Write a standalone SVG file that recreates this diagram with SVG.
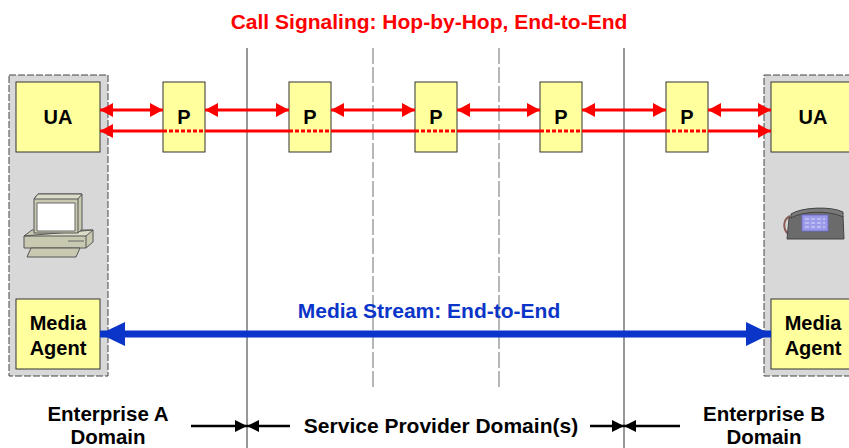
<svg xmlns="http://www.w3.org/2000/svg" width="849" height="448" viewBox="0 0 849 448">
  <style>
    .lbl { font-family: "Liberation Sans", Arial, sans-serif; font-weight: bold; }
    .box { fill: #ffff9e; stroke: #333; stroke-width: 1; }
    .panel { fill: #d8d8d8; stroke: #444; stroke-width: 1; stroke-dasharray: 7 2; }
    .sig { stroke: #ff0000; stroke-width: 3; fill: none; }
    .sigdot { stroke: #ff0000; stroke-width: 3; fill: none; stroke-dasharray: 4 2; }
    .media { stroke: #0a35c8; stroke-width: 7; fill: none; }
    .dom { stroke: #000; stroke-width: 2.5; fill: none; }
    .solid { stroke: #333; stroke-width: 1; }
    .dash { stroke: #888; stroke-width: 1.2; stroke-dasharray: 16 3; }
  </style>
  <defs>
    <marker id="redHead" markerUnits="userSpaceOnUse" markerWidth="16" markerHeight="16" refX="13" refY="7" orient="auto-start-reverse">
      <path d="M0,0 L13,7 L0,14 Z" fill="#ff0000"/>
    </marker>
    <marker id="blueHead" markerUnits="userSpaceOnUse" markerWidth="28" markerHeight="28" refX="25" refY="12" orient="auto-start-reverse">
      <path d="M0,0 L25,12 L0,24 Z" fill="#0a35c8"/>
    </marker>
    <marker id="blackHead" markerUnits="userSpaceOnUse" markerWidth="14" markerHeight="14" refX="12" refY="6" orient="auto-start-reverse">
      <path d="M0,0 L12,6 L0,12 Z" fill="#000"/>
    </marker>
  </defs>

  <rect width="849" height="448" fill="#fff"/>

  <!-- domain boundaries -->
  <g id="boundaries">
    <line class="solid" x1="247" y1="48" x2="247" y2="448"/>
    <line class="solid" x1="624" y1="48" x2="624" y2="448"/>
    <line class="dash" x1="373" y1="48" x2="373" y2="390"/>
    <line class="dash" x1="499" y1="48" x2="499" y2="390"/>
  </g>

  <!-- endpoint panels -->
  <g id="endpointA">
    <rect class="panel" x="9" y="75" width="99" height="301"/>
    <!-- desktop computer -->
    <g id="computer" stroke="#555" stroke-width="1" stroke-linejoin="round">
      <polygon points="24,236 32,230 93,230 93,242 86,248 24,248" fill="#c9c9b2"/>
      <polygon points="24,236 86,236 93,230" fill="#dcdcc8"/>
      <line x1="86" y1="236" x2="86" y2="248"/>
      <line x1="68" y1="241" x2="84" y2="241" stroke="#666"/>
      <polygon points="31,248 80,248 76,257 27,257" fill="#c9c9b2"/>
      <polygon points="34,199 38,194 82,194 82,229 78,233 34,233" fill="#c9c9b2"/>
      <polygon points="34,199 78,199 82,194 38,194" fill="#dcdcc8"/>
      <line x1="78" y1="199" x2="78" y2="233"/>
      <rect x="37" y="203" width="38" height="28" fill="#ffffff" stroke="#666"/>
    </g>
  </g>
  <g id="endpointB">
    <rect class="panel" x="764" y="75" width="100" height="301"/>
    <!-- desk telephone -->
    <g id="phone">
      <path d="M790,216 C782,220 782,232 792,236" stroke="#8a5a55" stroke-width="2" fill="none"/>
      <path d="M787,239 L789,218 C802,210 830,208 843,216 L844,239 Z" fill="#6b6b6b" stroke="#444"/>
      <path d="M791,214 C802,207 831,206 843,212 L843,217 C830,210 802,211 791,218 Z" fill="#7a7a7a" stroke="#444"/>
      <rect x="802" y="215" width="26" height="16" fill="#9a9ae8" stroke="#6a6acf" stroke-width="0.8"/>
      <g stroke="#dcdcff" stroke-width="1.2">
        <line x1="805" y1="219" x2="825" y2="219" stroke-dasharray="4 2"/>
        <line x1="805" y1="223" x2="825" y2="223" stroke-dasharray="4 2"/>
        <line x1="805" y1="227" x2="825" y2="227" stroke-dasharray="4 2"/>
      </g>
    </g>
  </g>

  <!-- nodes -->
  <g id="uaA">
    <rect class="box" x="16" y="82" width="84" height="70"/>
    <text class="lbl" x="58" y="124" font-size="20" text-anchor="middle">UA</text>
  </g>
  <g id="uaB">
    <rect class="box" x="771" y="82" width="84" height="70"/>
    <text class="lbl" x="813" y="124" font-size="20" text-anchor="middle">UA</text>
  </g>
  <g id="mediaA">
    <rect class="box" x="16" y="299" width="84" height="70"/>
    <text class="lbl" x="58" y="330" font-size="20" text-anchor="middle">Media</text>
    <text class="lbl" x="58" y="355" font-size="20" text-anchor="middle">Agent</text>
  </g>
  <g id="mediaB">
    <rect class="box" x="771" y="299" width="84" height="70"/>
    <text class="lbl" x="813" y="330" font-size="20" text-anchor="middle">Media</text>
    <text class="lbl" x="813" y="355" font-size="20" text-anchor="middle">Agent</text>
  </g>
  <g id="proxy1">
    <rect class="box" x="163" y="82" width="42" height="70"/>
    <text class="lbl" x="184" y="124" font-size="20" text-anchor="middle">P</text>
  </g>
  <g id="proxy2">
    <rect class="box" x="289" y="82" width="42" height="70"/>
    <text class="lbl" x="310" y="124" font-size="20" text-anchor="middle">P</text>
  </g>
  <g id="proxy3">
    <rect class="box" x="415" y="82" width="42" height="70"/>
    <text class="lbl" x="436" y="124" font-size="20" text-anchor="middle">P</text>
  </g>
  <g id="proxy4">
    <rect class="box" x="540" y="82" width="42" height="70"/>
    <text class="lbl" x="561" y="124" font-size="20" text-anchor="middle">P</text>
  </g>
  <g id="proxy5">
    <rect class="box" x="666" y="82" width="42" height="70"/>
    <text class="lbl" x="687" y="124" font-size="20" text-anchor="middle">P</text>
  </g>

  <!-- connectors -->
  <g id="connectors">
    <!-- hop-by-hop signaling -->
    <line class="sig" x1="100" y1="110" x2="163" y2="110" marker-start="url(#redHead)" marker-end="url(#redHead)"/>
    <line class="sig" x1="205" y1="110" x2="289" y2="110" marker-start="url(#redHead)" marker-end="url(#redHead)"/>
    <line class="sig" x1="331" y1="110" x2="415" y2="110" marker-start="url(#redHead)" marker-end="url(#redHead)"/>
    <line class="sig" x1="457" y1="110" x2="540" y2="110" marker-start="url(#redHead)" marker-end="url(#redHead)"/>
    <line class="sig" x1="582" y1="110" x2="666" y2="110" marker-start="url(#redHead)" marker-end="url(#redHead)"/>
    <line class="sig" x1="708" y1="110" x2="771" y2="110" marker-start="url(#redHead)" marker-end="url(#redHead)"/>
    <!-- end-to-end signaling -->
    <line class="sig" x1="100" y1="131" x2="163" y2="131" marker-start="url(#redHead)"/>
    <line class="sig" x1="205" y1="131" x2="289" y2="131"/>
    <line class="sig" x1="331" y1="131" x2="415" y2="131"/>
    <line class="sig" x1="457" y1="131" x2="540" y2="131"/>
    <line class="sig" x1="582" y1="131" x2="666" y2="131"/>
    <line class="sig" x1="708" y1="131" x2="771" y2="131" marker-end="url(#redHead)"/>
    <line class="sigdot" x1="163" y1="131" x2="205" y2="131"/>
    <line class="sigdot" x1="289" y1="131" x2="331" y2="131"/>
    <line class="sigdot" x1="415" y1="131" x2="457" y2="131"/>
    <line class="sigdot" x1="540" y1="131" x2="582" y2="131"/>
    <line class="sigdot" x1="666" y1="131" x2="708" y2="131"/>
    <!-- media stream -->
    <line class="media" x1="100" y1="334" x2="771" y2="334" marker-start="url(#blueHead)" marker-end="url(#blueHead)"/>
    <!-- domain extent arrows -->
    <line class="dom" x1="191" y1="426" x2="247" y2="426" marker-end="url(#blackHead)"/>
    <line class="dom" x1="290" y1="426" x2="247" y2="426" marker-end="url(#blackHead)"/>
    <line class="dom" x1="590" y1="426" x2="624" y2="426" marker-end="url(#blackHead)"/>
    <line class="dom" x1="680" y1="426" x2="624" y2="426" marker-end="url(#blackHead)"/>
  </g>

  <!-- captions -->
  <g id="captions">
    <text class="lbl" x="429" y="29" font-size="21" fill="#ff0000" text-anchor="middle">Call Signaling: Hop-by-Hop, End-to-End</text>
    <text class="lbl" x="429" y="318" font-size="21" fill="#0a35c8" text-anchor="middle">Media Stream: End-to-End</text>
    <text class="lbl" x="108" y="421" font-size="20.5" text-anchor="middle">Enterprise A</text>
    <text class="lbl" x="108" y="444" font-size="20.5" text-anchor="middle">Domain</text>
    <text class="lbl" x="441" y="433" font-size="21" text-anchor="middle">Service Provider Domain(s)</text>
    <text class="lbl" x="764" y="421" font-size="20.5" text-anchor="middle">Enterprise B</text>
    <text class="lbl" x="764" y="444" font-size="20.5" text-anchor="middle">Domain</text>
  </g>
</svg>
